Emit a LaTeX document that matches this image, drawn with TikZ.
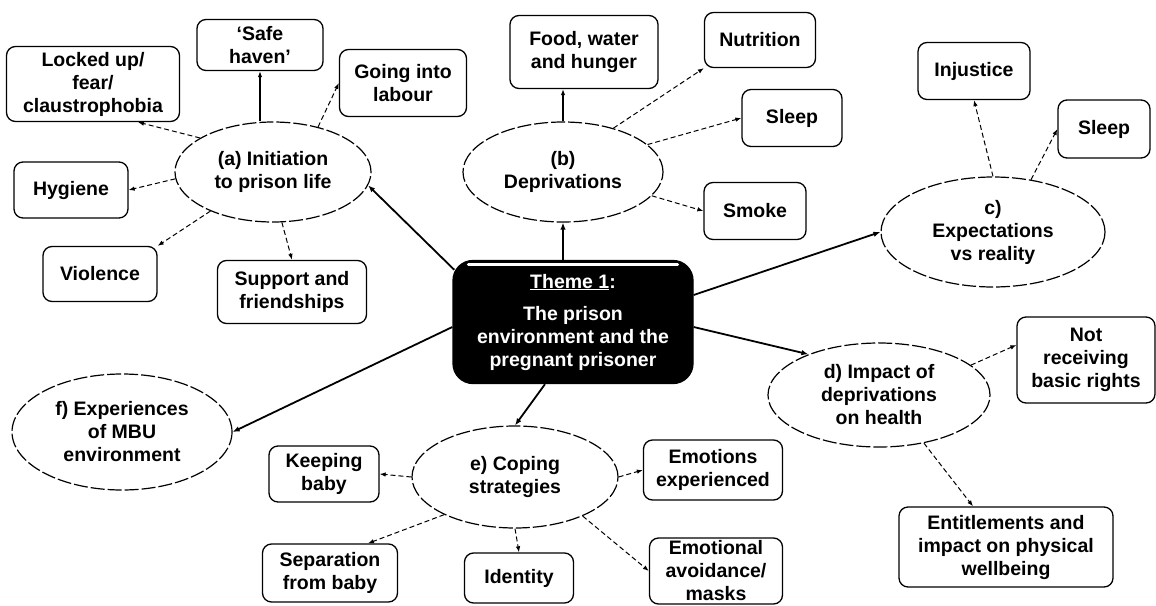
\documentclass[tikz,border=0pt]{standalone}
\usepackage{fontspec}
\setmainfont{Liberation Sans}
\usetikzlibrary{shapes.geometric,arrows.meta}
\begin{document}
\begin{tikzpicture}[x=1pt,y=-1pt,
  every node/.style={font=\fontsize{19.5}{23}\selectfont\bfseries, align=center, inner sep=0pt},
  box/.style={draw, rounded corners=9pt, line width=1.3pt},
  oval/.style={ellipse, draw, line width=1.2pt, dash pattern=on 14pt off 3pt},
  themebox/.style={draw=black, fill=black, text=white, rounded corners=20pt, line width=1.3pt},
  main/.style={line width=1.8pt, -{Latex[length=7pt,width=5.5pt]}},
  sub/.style={line width=1pt, dash pattern=on 5pt off 3pt, -{Latex[length=6pt,width=4.5pt]}},
  subsolid/.style={line width=1.5pt, -{Latex[length=6pt,width=4.5pt]}}
]
\useasboundingbox (0,0) rectangle (1156,605);

% central theme
\node[themebox, minimum width=240pt, minimum height=123pt] (theme) at (573,322)
  {\underline{Theme 1}:\\[9pt]The prison\\environment and the\\pregnant prisoner};
\draw[white, line width=3pt, line cap=round]
  ([shift={(16,5)}]theme.north west) -- ([shift={(-16,5)}]theme.north east);

% (a) initiation to prison life
\node[oval, minimum width=196pt, minimum height=100pt] (a) at (273,172) {(a) Initiation\\to prison life};
\node[box, minimum width=173pt, minimum height=75pt] (locked) at (93,84) {Locked up/\\fear/\\claustrophobia};
\node[box, minimum width=126pt, minimum height=51pt] (safe) at (260,45) {‘Safe\\haven’};
\node[box, minimum width=127pt, minimum height=67pt] (labour) at (403,83) {Going into\\labour};
\node[box, minimum width=114pt, minimum height=56pt] (hygiene) at (71,190) {Hygiene};
\node[box, minimum width=114pt, minimum height=55pt] (violence) at (100,274) {Violence};
\node[box, minimum width=149pt, minimum height=63pt] (support) at (292,292) {Support and\\friendships};

% (b) deprivations
\node[oval, minimum width=200pt, minimum height=100pt] (b) at (563,172) {(b)\\Deprivations};
\node[box, minimum width=148pt, minimum height=73pt] (food) at (584,52) {Food, water\\and hunger};
\node[box, minimum width=111pt, minimum height=55pt] (nutrition) at (760,40) {Nutrition};
\node[box, minimum width=100pt, minimum height=57pt] (sleepb) at (792,118) {Sleep};
\node[box, minimum width=102pt, minimum height=57pt] (smoke) at (755,211) {Smoke};

% (c) expectations vs reality
\node[oval, minimum width=224pt, minimum height=110pt] (c) at (993,232) {c)\\Expectations\\vs reality};
\node[box, minimum width=112pt, minimum height=57pt] (injustice) at (974,71) {Injustice};
\node[box, minimum width=92pt, minimum height=58pt] (sleepc) at (1104,129) {Sleep};

% (d) impact on health
\node[oval, minimum width=222pt, minimum height=104pt] (d) at (879,395) {d) Impact of\\deprivations\\on health};
\node[box, minimum width=138pt, minimum height=86pt] (notrec) at (1086,360) {Not\\receiving\\basic rights};
\node[box, minimum width=214pt, minimum height=80pt] (ent) at (1006,547) {Entitlements and\\impact on physical\\wellbeing};

% (e) coping strategies
\node[oval, minimum width=206pt, minimum height=102pt] (e) at (515,477) {e) Coping\\strategies};
\node[box, minimum width=139pt, minimum height=60pt] (emoexp) at (713,470) {Emotions\\experienced};
\node[box, minimum width=133pt, minimum height=66pt] (avoid) at (716,571) {Emotional\\avoidance/\\masks};
\node[box, minimum width=109pt, minimum height=50pt] (identity) at (519,578) {Identity};
\node[box, minimum width=110pt, minimum height=56pt] (keep) at (324,474) {Keeping\\baby};
\node[box, minimum width=135pt, minimum height=58pt] (sep) at (330,573) {Separation\\from baby};

% (f) MBU environment
\node[oval, minimum width=220pt, minimum height=116pt] (f) at (122,432) {f) Experiences\\of MBU\\environment};

% theme to sub-themes
\draw[main] ([shift={(2,10)}]theme.north west) -- (a.352);
\draw[main] (b.south |- theme.north) -- (b.south);
\draw[main] ([shift={(0,-27)}]theme.east) -- (c.west);
\draw[main] ([shift={(0,5)}]theme.east) -- (d.150);
\draw[main] ([shift={(-28,0)}]theme.south) -- (e.north);
\draw[main] ([shift={(0,5)}]theme.west) -- (f.east);

% (a) branches
\draw[sub] (a.155) -- ([shift={(45,0)}]locked.south);
\draw[subsolid] (a.north -| safe.south) -- (safe.south);
\draw[sub] (a.45) -- (labour.west);
\draw[sub] (a.184) -- (hygiene.east);
\draw[sub] (a.212) -- (violence.north east);
\draw[sub] (a.280) -- (support.north);

% (b) branches
\draw[subsolid] (b.north) -- (b.north |- food.south);
\draw[sub] (b.41) -- (nutrition.south west);
\draw[sub] (b.18) -- (sleepb.west);
\draw[sub] (b.345) -- (smoke.west);

% (c) branches
\draw[sub] (c.north) -- (injustice.south);
\draw[sub] (c.54) -- (sleepc.west);

% (d) branches
\draw[sub] (d.18) -- ([shift={(0,-15)}]notrec.west);
\draw[sub] (d.313) -- ([shift={(-33,0)}]ent.north);

% (e) branches
\draw[sub] (e.west) -- (keep.east);
\draw[sub] (e.208) -- ([shift={(38,0)}]sep.north);
\draw[sub] (e.south) -- (identity.north);
\draw[sub] (e.east) -- (emoexp.west);
\draw[sub] (e.330) -- (avoid.west);
\end{tikzpicture}
\end{document}
